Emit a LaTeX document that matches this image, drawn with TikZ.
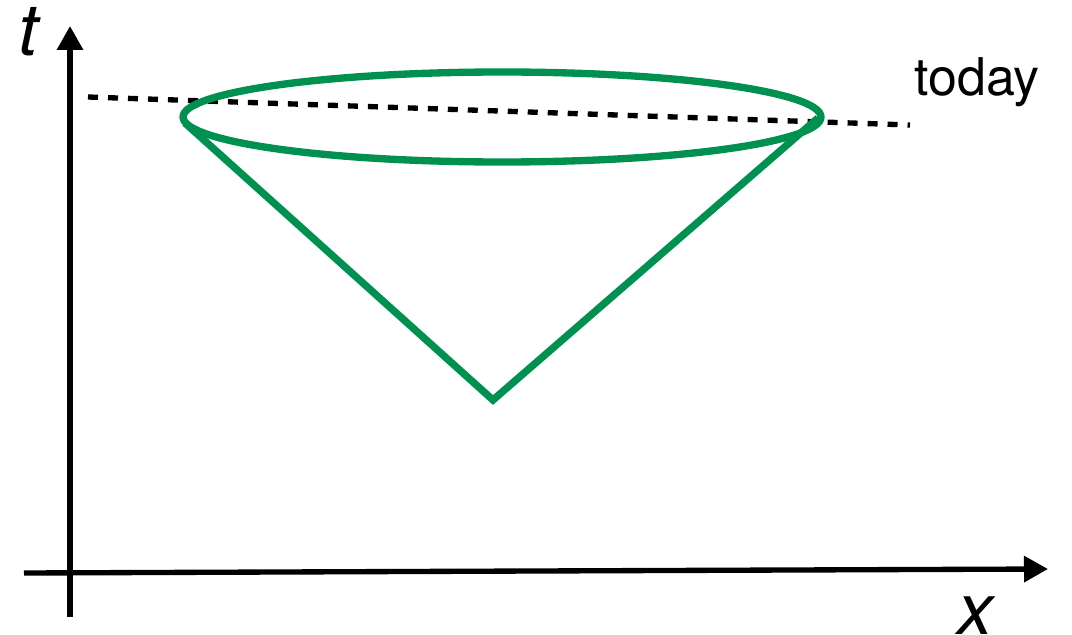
\documentclass[tikz,border=0pt]{standalone}
\usepackage{fontspec}
\setmainfont{TeX Gyre Heros}
\usetikzlibrary{arrows.meta}
\definecolor{conegreen}{HTML}{009150}
\begin{document}
\begin{tikzpicture}[x=0.75pt,y=-0.75pt,
  axis/.style={line width=4pt,-{Triangle[length=18pt,width=19pt]}},
  cone/.style={draw=conegreen,line width=5.5pt},
  todayline/.style={line width=4pt,dash pattern=on 7.5pt off 7.5pt},
  axlabel/.style={inner sep=0pt,font=\fontsize{54}{58}\selectfont\itshape},
  txtlabel/.style={inner sep=0pt,font=\fontsize{39}{44}\selectfont}]
\useasboundingbox (0,0) rectangle (1072,635);
\coordinate (tbot) at (70,617);
\coordinate (ttop) at (70,26);
\coordinate (xleft) at (24,573);
\coordinate (xright) at (1048,569);
\draw[axis] (tbot) -- (ttop);
\draw[axis] (xleft) -- (xright);
\node[axlabel,anchor=base west] (tlab) at (18,56) {t};
\node[axlabel,anchor=base west] (xlab) at (957,634) {x};
\coordinate (dl) at (88,97);
\coordinate (dr) at (910,125);
\draw[todayline] (dl) -- (dr);
\node[txtlabel,anchor=base west] (today) at (914,96) {today};
\coordinate (ec) at (502,117);
\draw[cone] (ec) ellipse [x radius=319, y radius=45];
\coordinate (cl) at (185,123);
\coordinate (apex) at (493,400);
\coordinate (cr) at (818,118);
\draw[cone,line join=miter] (cl) -- (apex) -- (cr);
\end{tikzpicture}
\end{document}
